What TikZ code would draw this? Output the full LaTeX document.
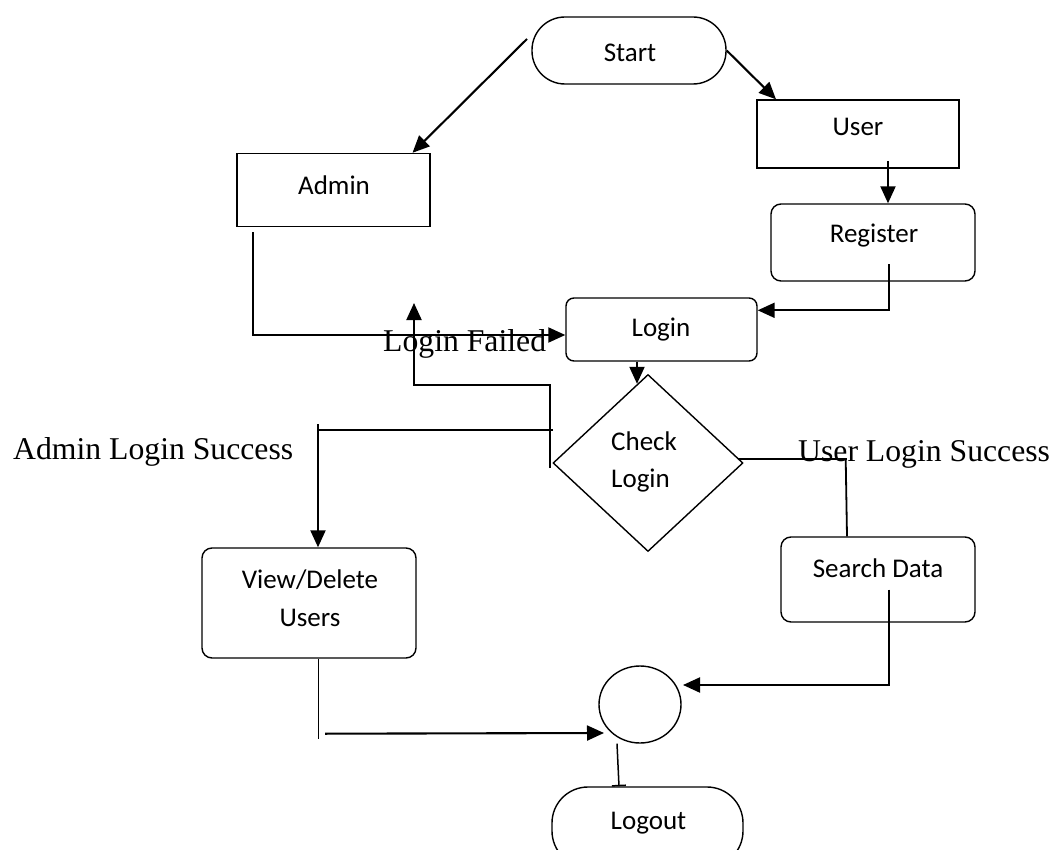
\documentclass[tikz,border=0pt]{standalone}
\usepackage{fontspec}
\setmainfont{Liberation Serif}
\newfontfamily\boxfont{Carlito}
\usetikzlibrary{shapes.geometric,arrows.meta,calc}
\tikzset{
  shp/.style={draw, line width=1.4pt, inner sep=0pt},
  sqbox/.style={shp, rectangle},
  rbox/.style={shp, rectangle, rounded corners=10pt},
  pill/.style={shp, rectangle, rounded corners=33pt},
  txt/.style={font=\boxfont\fontsize{27}{38}\selectfont, inner sep=0pt, anchor=base},
  big/.style={font=\fontsize{31.7}{36}\selectfont, inner sep=0pt, anchor=base west},
  arr/.style={line width=2.1pt, -{Triangle[length=17pt,width=15pt]}},
  ln/.style={line width=1.8pt},
  thinln/.style={line width=0.9pt},
}
\begin{document}
\begin{tikzpicture}[x=1pt,y=-1pt]
\useasboundingbox (0,0) rectangle (1052,850);
\clip (0,0) rectangle (1052,850);
\fill[white] (0,0) rectangle (1052,850);

% shapes
\node[pill, minimum width=194pt, minimum height=67pt] (start) at (629,50.5) {};
\node[sqbox, minimum width=193pt, minimum height=73pt] (admin) at (333.5,190) {};
\node[sqbox, minimum width=202pt, minimum height=68pt] (user) at (858,134) {};
\node[rbox, minimum width=204pt, minimum height=77pt] (register) at (873,242.5) {};
\node[rbox, rounded corners=8pt, minimum width=191pt, minimum height=63pt] (login) at (661.5,329.5) {};
\node[shp, diamond, minimum width=190pt, minimum height=177pt] (check) at (648,463) {};
\node[rbox, minimum width=214pt, minimum height=110pt] (viewdel) at (309,603) {};
\node[rbox, minimum width=194pt, minimum height=85pt] (search) at (878,579.5) {};
\node[shp, ellipse, minimum width=82pt, minimum height=77pt] (circ) at (640,704.5) {};
\node[pill, rounded corners=36pt, minimum width=191pt, minimum height=80pt] (logout) at (647.5,827) {};

% texts
\node[txt] (startT) at (630,62) {Start};
\node[txt] (adminT) at (334,195) {Admin};
\node[txt] (userT) at (858,136) {User};
\node[txt] (registerT) at (874,243) {Register};
\node[txt] (loginT) at (661,336) {Login};
\node[txt, anchor=base west] (checkT1) at (611,450) {Check};
\node[txt, anchor=base west] (checkT2) at (611,487) {Login};
\node[txt] (viewT1) at (310,588) {View/Delete};
\node[txt] (viewT2) at (310,626) {Users};
\node[txt] (searchT) at (878,577) {Search Data};
\node[txt] (logoutT) at (648.5,829) {Logout};

\node[big] (failT) at (383,351) {Login Failed};
\node[big] (adminOK) at (13,459) {Admin Login Success};
\node[big] (userOK) at (798,461) {User Login Success};

% free ends
\coordinate (s1) at (527,39);
\coordinate (lf) at (414,303);
\coordinate (as) at (553,430);

% connectors
\draw[arr] (s1) -- ($(admin.north)+(79,0)$);
\draw[arr] (start.east) -- ($(user.north)+(-82,0)$);
\draw[arr] ($(user.center)+(30,27)$) -- ($(register.north)+(15,0)$);
\draw[arr] ($(register.center)+(16,22)$) |- ($(login.north east)+(0,13)$);
\draw[arr] ($(admin.south west)+(17,5)$) |- ($(login.west)+(0,5.5)$);
\draw[arr] ($(login.south)+(-24.5,0)$) -- ($(check.north)+(-11,10)$);
\draw[arr] ($(check.west)+(-2,5)$) -- ++(0,-83) -| (lf);
\draw[ln] (as) -- ++(-235,0);
\draw[arr] ($(viewdel.north)+(9,-123)$) -- ($(viewdel.north)+(9,0)$);
\draw[ln] ($(check.east)+(-6,-4)$) -- ++(109,0);
\draw[ln] ($(check.east)+(102,-4)$) -- ($(search.north)+(-31,0)$);
\draw[arr] ($(search.center)+(11,10)$) |- ($(circ.center)+(43,-19.5)$);
\draw[thinln] ($(viewdel.south)+(9,0)$) -- ++(0,80);
\draw[arr] ($(viewdel.south)+(16,75)$) -- ($(circ.center)+(-36,28.5)$);
\draw[line width=1.5pt, -{Bar[width=14pt,line width=1.5pt]}] ($(circ.south)+(-23,0)$) -- ($(logout.north)+(-28.5,0)$);
\end{tikzpicture}
\end{document}
